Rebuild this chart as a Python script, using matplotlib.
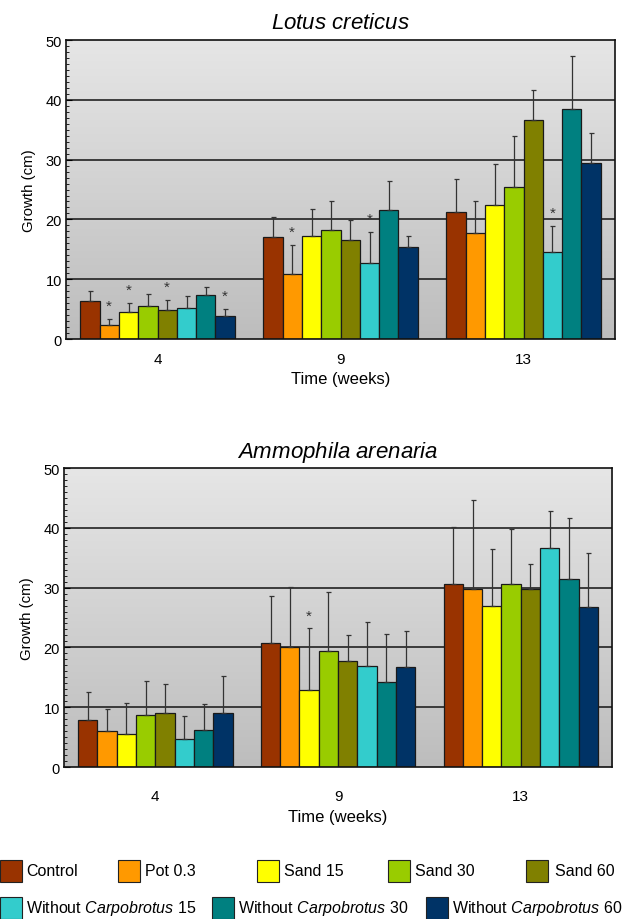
import numpy as np
import matplotlib
matplotlib.use("Agg")
import matplotlib.pyplot as plt
from matplotlib.patches import Rectangle
from matplotlib.colors import LinearSegmentedColormap

plt.rcParams['font.family'] = ['Liberation Sans', 'DejaVu Sans']
plt.rcParams['mathtext.fontset'] = 'custom'
plt.rcParams['mathtext.rm'] = 'Liberation Sans'
plt.rcParams['mathtext.it'] = 'Liberation Sans:italic'
plt.rcParams['mathtext.bf'] = 'Liberation Sans:bold'

weeks = ["4", "9", "13"]
treatments = ["Control", "Pot 0.3", "Sand 15", "Sand 30", "Sand 60",
              "Without $\\mathit{Carpobrotus}$ 15",
              "Without $\\mathit{Carpobrotus}$ 30",
              "Without $\\mathit{Carpobrotus}$ 60"]
colors = ["#993300", "#ff9900", "#ffff00", "#99cc00", "#808000",
          "#33cccc", "#008080", "#003366"]

# Lotus creticus: rows = weeks, columns = treatments
lotus_mean = [[6.4, 2.3, 4.5, 5.6, 4.9, 5.2, 7.3, 3.8],
              [17.1, 10.9, 17.3, 18.2, 16.6, 12.7, 21.6, 15.4],
              [21.3, 17.7, 22.4, 25.5, 36.6, 14.5, 38.4, 29.4]]
lotus_err = [[1.6, 1.1, 1.6, 1.9, 1.7, 2.0, 1.4, 1.2],
             [3.3, 4.9, 4.4, 4.8, 3.3, 5.2, 4.9, 1.8],
             [5.4, 5.3, 6.8, 8.5, 5.1, 4.4, 8.9, 5.1]]
lotus_sig = [[1, 2, 4, 7], [1, 5], [5]]

# Ammophila arenaria
ammo_mean = [[7.8, 6.0, 5.5, 8.7, 9.1, 4.7, 6.2, 9.1],
             [20.8, 20.0, 12.8, 19.4, 17.8, 16.9, 14.2, 16.7],
             [30.6, 29.8, 26.9, 30.6, 29.7, 36.6, 31.5, 26.7]]
ammo_err = [[4.8, 3.7, 5.2, 5.7, 4.7, 3.8, 4.3, 6.1],
            [7.8, 10.1, 10.4, 9.8, 4.3, 7.4, 8.0, 6.1],
            [9.5, 14.8, 9.5, 9.2, 4.2, 6.2, 10.2, 9.1]]
ammo_sig = [[], [2], []]

fig = plt.figure(figsize=(6.3, 9.2), dpi=100)
ax1 = fig.add_axes([0.1048, 0.6304, 0.8714, 0.325])
ax2 = fig.add_axes([0.1016, 0.1652, 0.870, 0.325])

grad = np.linspace(0, 1, 256).reshape(-1, 1)
bgcmap = LinearSegmentedColormap.from_list("bg", ["#bdbdbd", "#e6e6e6"])


def draw(ax, means, errs, sig, title, xpad, tpad):
    ax.imshow(grad, extent=[0, 1, 0, 1], transform=ax.transAxes, cmap=bgcmap,
              aspect='auto', origin='lower', zorder=0)
    means = np.array(means)
    errs = np.array(errs)
    n = len(treatments)
    w = 0.1056
    x = np.arange(len(weeks))
    for g in range(1, 5):
        ax.axhline(g * 10, color='#222222', lw=1.2, zorder=1)
    for i in range(n):
        xi = x + (i - (n - 1) / 2) * w
        ax.bar(xi, means[:, i], width=w, color=colors[i], edgecolor='#1a1a1a',
               linewidth=0.9, zorder=2)
        ax.errorbar(xi, means[:, i], yerr=[np.zeros(len(x)), errs[:, i]],
                    fmt='none', ecolor='#333333', elinewidth=0.9, capsize=1.8,
                    capthick=0.9, zorder=3)
    for gi, lst in enumerate(sig):
        for i in lst:
            xi = gi + (i - (n - 1) / 2) * w
            ax.text(xi, means[gi, i] + errs[gi, i] + 1.0, "*", ha='center',
                    va='bottom', fontsize=11, color='#333333', zorder=4)
    ax.set_xlim(-0.5, 2.5)
    ax.set_ylim(0, 50)
    ax.set_xticks(x)
    ax.set_xticklabels(weeks, fontsize=11)
    ax.set_yticks(range(0, 51, 10))
    ax.set_yticklabels([str(v) for v in range(0, 51, 10)], fontsize=10.5)
    ax.set_yticks(range(0, 51), minor=True)
    ax.tick_params(axis='x', length=0, pad=xpad)
    ax.tick_params(axis='y', which='major', length=4, direction='in', pad=3)
    ax.tick_params(axis='y', which='minor', length=2.5, direction='in')
    ax.set_xlabel("Time (weeks)", fontsize=12, labelpad=4)
    ax.set_ylabel("Growth (cm)", fontsize=10.8, labelpad=7)
    ax.set_title(title, fontsize=16, pad=tpad)
    for s in ax.spines.values():
        s.set_color('#111111')
        s.set_linewidth(1.2)


draw(ax1, lotus_mean, lotus_err, lotus_sig,
     "$\\mathit{Lotus}$ $\\mathit{creticus}$", 9, 9)
draw(ax2, ammo_mean, ammo_err, ammo_sig,
     "$\\mathit{Ammophila\\ arenaria}$", 16, 8)

# legend (manual layout)
W, H = 630.0, 920.0
rows = [(872, [(0, 26), (118, 145), (257, 284), (388, 415), (526, 555)]),
        (909, [(0, 26), (212, 238), (426, 452)])]
idx = 0
for yc, items in rows:
    for px, tx in items:
        fig.add_artist(Rectangle((px / W, 1 - (yc + 11) / H), 22 / W, 22 / H,
                                 transform=fig.transFigure,
                                 facecolor=colors[idx], edgecolor='#222222',
                                 linewidth=0.8))
        fig.text(tx / W, 1 - yc / H, treatments[idx], fontsize=11.5,
                 va='center', ha='left')
        idx += 1

fig.savefig("out.png", dpi=100)
